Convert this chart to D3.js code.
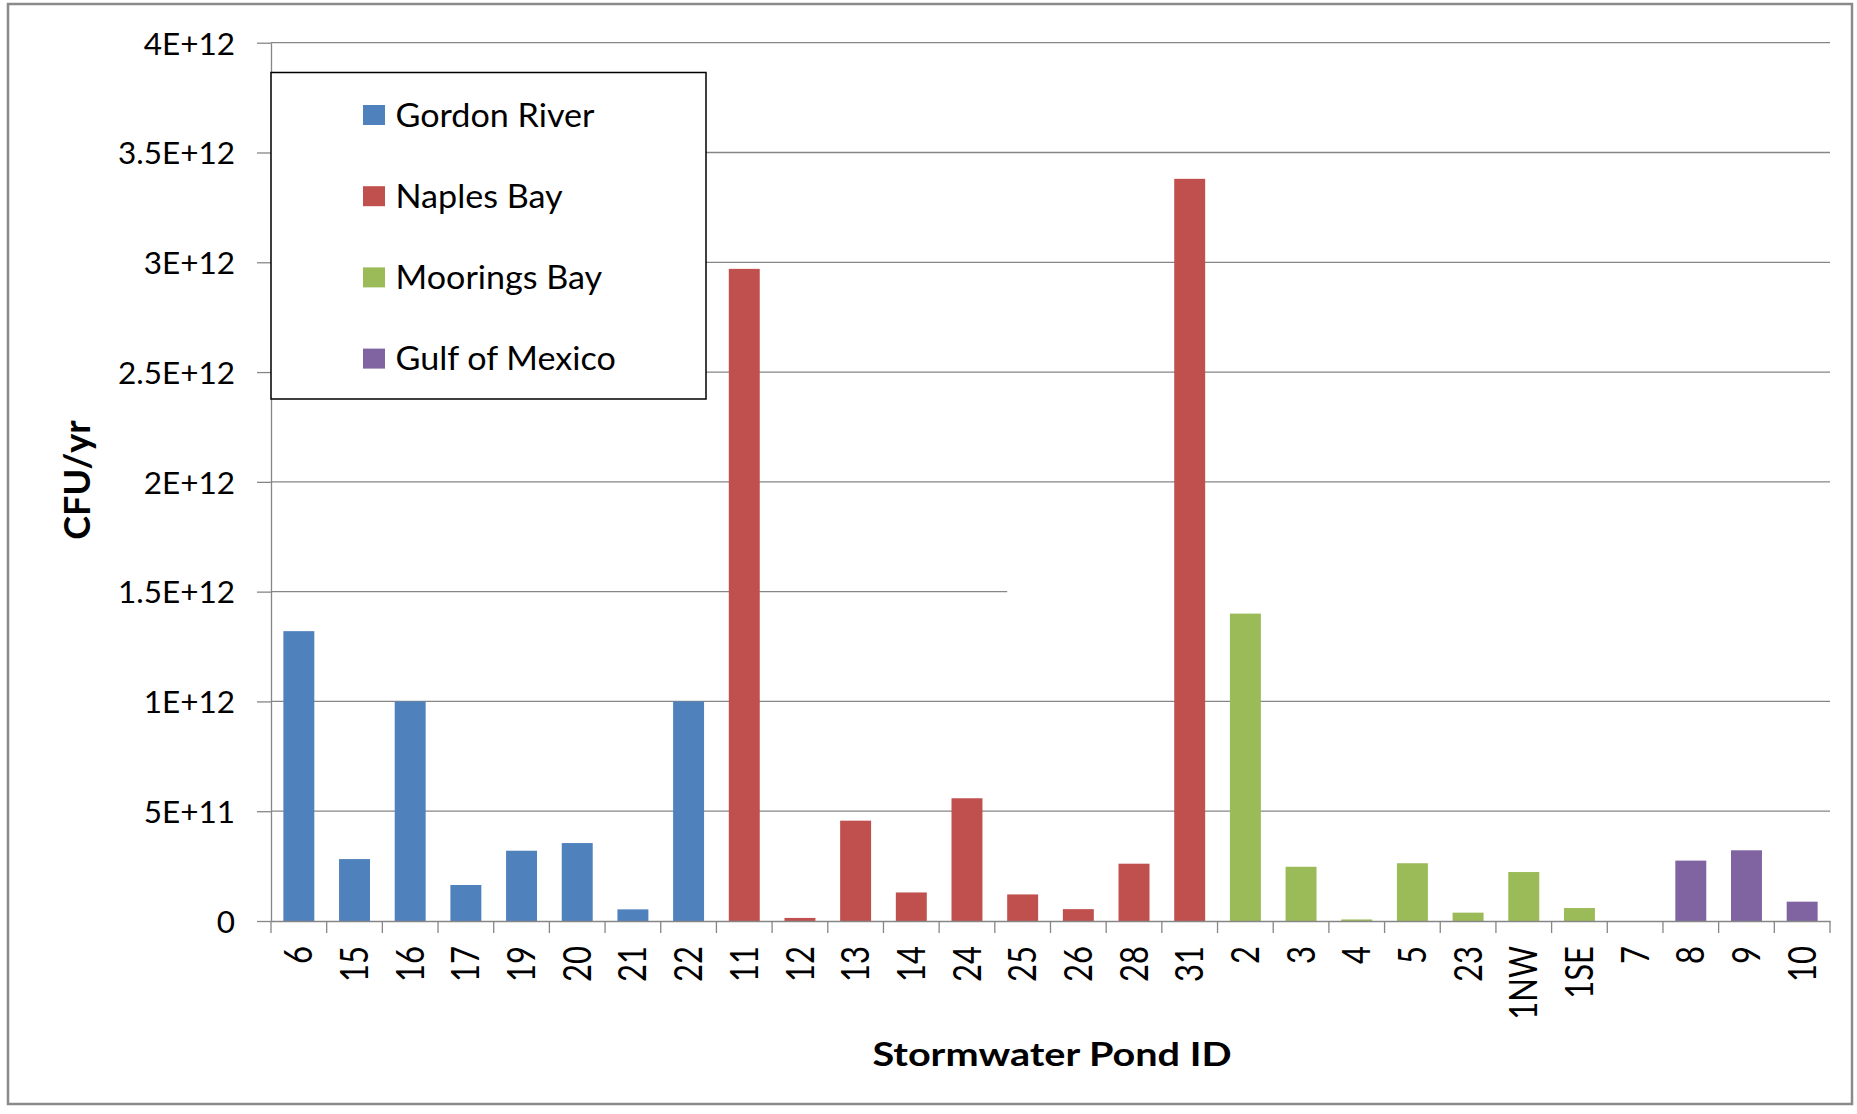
<!DOCTYPE html>
<html>
<head>
<meta charset="utf-8">
<script src="https://cdn.jsdelivr.net/npm/d3@7"></script>
<style>
  body { margin: 0; background: #fff; }
  text { font-family: Lato, 'Open Sans', sans-serif; fill: #000; }
</style>
</head>
<body>
<svg id="chart"></svg>
<script>
var width = 1857,
  height = 1114;

// pond ids and loads (CFU/yr), one pair of arrays per receiving water
var groupNames = ['Gordon River', 'Naples Bay', 'Moorings Bay', 'Gulf of Mexico'];

var gordonIds = ['6', '15', '16', '17', '19', '20', '21', '22'];
var gordonValues = [1.32e12, 2.82e11, 1.0e12, 1.64e11, 3.2e11, 3.55e11, 5.3e10, 1.0e12];

var naplesIds = ['11', '12', '13', '14', '24', '25', '26', '28', '31'];
var naplesValues = [2.97e12, 1.4e10, 4.57e11, 1.3e11, 5.59e11, 1.21e11, 5.4e10, 2.61e11, 3.38e12];

var mooringsIds = ['2', '3', '4', '5', '23', '1NW', '1SE'];
var mooringsValues = [1.4e12, 2.47e11, 7e9, 2.63e11, 3.8e10, 2.23e11, 5.9e10];

var gulfIds = ['7', '8', '9', '10'];
var gulfValues = [0, 2.75e11, 3.22e11, 8.8e10];

var yTickValues = [0, 5e11, 1e12, 1.5e12, 2e12, 2.5e12, 3e12, 3.5e12, 4e12];
var yTickLabels = ['0', '5E+11', '1E+12', '1.5E+12', '2E+12', '2.5E+12', '3E+12', '3.5E+12', '4E+12'];

var colors = ['#4f81bd', '#c0504d', '#9bbb59', '#8064a2'];

var ponds = [];
[[gordonIds, gordonValues], [naplesIds, naplesValues], [mooringsIds, mooringsValues], [gulfIds, gulfValues]]
  .forEach(function(pair, g) {
    pair[0].forEach(function(id, i) {
      ponds.push({ id: id, value: pair[1][i], group: g });
    });
  });

var plotLeft = 271,
  plotRight = 1830,
  plotTop = 42.7,
  plotBottom = 921;

var x = d3.scaleBand()
  .domain(ponds.map(function(d) { return d.id; }))
  .range([plotLeft, plotRight])
  .paddingInner(0.444)
  .paddingOuter(0.222);

var y = d3.scaleLinear()
  .domain([0, 4e12])
  .range([plotBottom, plotTop]);

var svg = d3.select('#chart')
  .attr('width', width)
  .attr('height', height);

// outer chart frame
svg.append('rect')
  .attr('x', 8)
  .attr('y', 4)
  .attr('width', 1844)
  .attr('height', 1100)
  .attr('fill', '#fff')
  .attr('stroke', '#8a8a8a')
  .attr('stroke-width', 2.5);

// gridlines (the 1.5E+12 one stops at pond 25 in the original)
svg.append('g')
  .selectAll('line')
  .data(yTickValues.filter(function(d) { return d > 0; }))
  .enter().append('line')
  .attr('x1', plotLeft)
  .attr('x2', function(d) { return d === 1.5e12 ? x('25') : plotRight; })
  .attr('y1', function(d) { return y(d); })
  .attr('y2', function(d) { return y(d); })
  .attr('stroke', '#868686')
  .attr('stroke-width', 1.3);

svg.append('g')
  .selectAll('rect')
  .data(ponds)
  .enter().append('rect')
  .attr('x', function(d) { return x(d.id); })
  .attr('width', x.bandwidth())
  .attr('y', function(d) { return y(d.value); })
  .attr('height', function(d) { return y(0) - y(d.value); })
  .attr('fill', function(d) { return colors[d.group]; });

// y axis
var yAxis = svg.append('g')
  .attr('transform', 'translate(' + plotLeft + ',0)')
  .call(d3.axisLeft(y)
    .tickValues(yTickValues)
    .tickFormat(function(d, i) { return yTickLabels[i]; })
    .tickSize(14)
    .tickSizeOuter(0)
    .tickPadding(22));

yAxis.selectAll('path, line')
  .attr('stroke', '#868686')
  .attr('stroke-width', 1.3);
yAxis.selectAll('text')
  .attr('dy', '0.36em')
  .style('font-size', '31.5px');

// x axis
var xAxis = svg.append('g')
  .attr('transform', 'translate(0,' + plotBottom + ')')
  .call(d3.axisBottom(x)
    .tickSize(0)
    .tickSizeOuter(0));

xAxis.select('.domain')
  .attr('stroke', '#868686')
  .attr('stroke-width', 1.3);

xAxis.selectAll('text')
  .attr('x', null)
  .attr('y', null)
  .attr('dy', '0.35em')
  .attr('text-anchor', 'end')
  .attr('transform', 'translate(0,25) scale(1.25,1) rotate(-90)')
  .style('font-size', '31px');

// category divider ticks
xAxis.append('g')
  .selectAll('line')
  .data(d3.range(ponds.length + 1))
  .enter().append('line')
  .attr('x1', function(i) { return plotLeft + i * x.step(); })
  .attr('x2', function(i) { return plotLeft + i * x.step(); })
  .attr('y1', 0)
  .attr('y2', 12)
  .attr('stroke', '#868686')
  .attr('stroke-width', 1.3);

// axis titles
svg.append('text')
  .attr('transform', 'translate(90,480) rotate(-90)')
  .attr('text-anchor', 'middle')
  .style('font-size', '36px')
  .style('font-weight', 'bold')
  .text('CFU/yr');

svg.append('text')
  .attr('transform', 'translate(1052,1066) scale(1.2,1)')
  .attr('text-anchor', 'middle')
  .style('font-size', '33px')
  .style('font-weight', 'bold')
  .text('Stormwater Pond ID');

// legend
var legend = svg.append('g');

legend.append('rect')
  .attr('x', plotLeft)
  .attr('y', 72.5)
  .attr('width', 435)
  .attr('height', 326.5)
  .attr('fill', '#fff')
  .attr('stroke', '#000')
  .attr('stroke-width', 1.5);

var item = legend.selectAll('.item')
  .data(groupNames)
  .enter().append('g')
  .attr('class', 'item')
  .attr('transform', function(d, i) { return 'translate(363,' + (115 + i * 81.2) + ')'; });

item.append('rect')
  .attr('x', 0)
  .attr('y', -10)
  .attr('width', 22)
  .attr('height', 20)
  .attr('fill', function(d, i) { return colors[i]; });

item.append('text')
  .attr('x', 31)
  .attr('dy', '0.36em')
  .attr('transform', 'scale(1.05,1)')
  .style('font-size', '32.5px')
  .text(function(d) { return d; });
</script>
</body>
</html>
